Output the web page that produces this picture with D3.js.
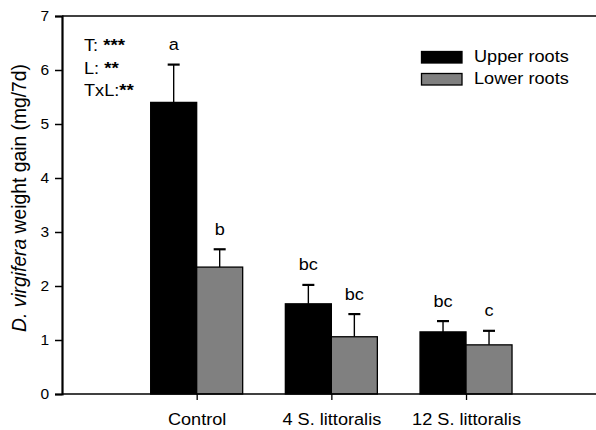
<!DOCTYPE html>
<html>
<head>
<meta charset="utf-8">
<script src="https://cdn.jsdelivr.net/npm/d3@7"></script>
<style>
  html, body { margin: 0; padding: 0; background: #fff; }
  svg { display: block; font-family: Arial, "Liberation Sans", sans-serif; }
</style>
</head>
<body>
<svg id="chart" width="596" height="430"></svg>
<script>
// Treatments along the x axis
const categories = ["Control", "4 S. littoralis", "12 S. littoralis"];
// Root layers (series)
const seriesNames = ["Upper roots", "Lower roots"];
// Mean weight gain (mg/7d)
const upperMeans = [5.4, 1.67, 1.15];
const lowerMeans = [2.35, 1.06, 0.91];
// Upper end of the error bars (mean + SE)
const upperErr = [6.1, 2.02, 1.35];
const lowerErr = [2.68, 1.48, 1.17];
// Post-hoc letters
const upperLetters = ["a", "bc", "bc"];
const lowerLetters = ["b", "bc", "c"];
// ANOVA summary
const statLabels = ["T:", "L:", "TxL:"];
const statStars = ["***", "**", "**"];
const yTicks = [0, 1, 2, 3, 4, 5, 6, 7];

const svg = d3.select("#chart");
const plotLeft = 62, plotTop = 16, plotBottom = 394, plotRight = 600.7;
const colors = ["#000000", "#808080"];
const FONT = "Arial, 'Liberation Sans', sans-serif";
const stretch = 1.1; // horizontal text is set slightly wide

const y = d3.scaleLinear().domain([0, 7]).range([plotBottom, plotTop]);
// categories sit at positions 1..3 of a 0..4 layout
const xPos = d3.scaleLinear().domain([0, 4]).range([plotLeft, plotRight]);
const barW = 46;

// horizontal text helper (wide set)
function wideText(parent, x, yy, size, anchor) {
  return parent.append("text")
    .attr("transform", `translate(${x},${yy}) scale(${stretch},1)`)
    .attr("font-size", size).attr("font-family", FONT)
    .attr("text-anchor", anchor || "start").attr("fill", "#000");
}

// frame: top line
svg.append("line").attr("x1", plotLeft).attr("x2", 596).attr("y1", plotTop).attr("y2", plotTop)
  .attr("stroke", "#000").attr("stroke-width", 1.5);

// bars with error bars and letters
const series = [
  { means: upperMeans, err: upperErr, letters: upperLetters, off: -1 },
  { means: lowerMeans, err: lowerErr, letters: lowerLetters, off: 0 }
];
series.forEach((s, si) => {
  const g = svg.append("g");
  categories.forEach((c, i) => {
    const cx = xPos(i + 1);
    const x0 = cx + s.off * barW;
    const mid = x0 + barW / 2;
    g.append("line").attr("x1", mid).attr("x2", mid)
      .attr("y1", y(s.means[i])).attr("y2", y(s.err[i]))
      .attr("stroke", "#000").attr("stroke-width", 1.4);
    g.append("line").attr("x1", mid - 6).attr("x2", mid + 6)
      .attr("y1", y(s.err[i])).attr("y2", y(s.err[i]))
      .attr("stroke", "#000").attr("stroke-width", 2.2);
    g.append("rect").attr("x", x0).attr("width", barW)
      .attr("y", y(s.means[i])).attr("height", y(0) - y(s.means[i]))
      .attr("fill", colors[si]).attr("stroke", "#000").attr("stroke-width", 1.3);
    wideText(g, mid, y(s.err[i]) - 14.5, 16.5, "middle").text(s.letters[i]);
  });
});

// y axis
const yAxis = d3.axisLeft(y).tickValues(yTicks).tickSize(7).tickPadding(6).tickFormat(d3.format("d"));
const gy = svg.append("g").attr("transform", `translate(${plotLeft},0)`).call(yAxis);
gy.select(".domain").attr("stroke-width", 2.2);
gy.selectAll(".tick line").attr("stroke-width", 1.5);
gy.selectAll("text").attr("font-size", 15.5).attr("font-family", FONT).attr("fill", "#000");

// x axis
svg.append("line").attr("x1", plotLeft).attr("x2", 596).attr("y1", plotBottom).attr("y2", plotBottom)
  .attr("stroke", "#000").attr("stroke-width", 1.5);
const xAxis = d3.axisBottom(xPos).tickValues([1, 2, 3]).tickSize(6).tickPadding(12)
  .tickFormat(d => categories[d - 1]);
const gx = svg.append("g").attr("transform", `translate(0,${plotBottom})`).call(xAxis);
gx.select(".domain").remove();
gx.selectAll(".tick line").attr("stroke-width", 1.3);
// category labels (wide set), drawn at the tick positions
gx.selectAll(".tick").each(function (d) {
  d3.select(this).selectAll("text").remove();
  wideText(d3.select(this), 0, 31, 16.5, "middle").text(categories[d - 1]);
});

// y axis title
const yt = svg.append("text")
  .attr("transform", `translate(25.5,198) rotate(-90)`)
  .attr("text-anchor", "middle").attr("font-size", 19.3).attr("font-family", FONT);
yt.append("tspan").attr("font-style", "italic").text("D. virgifera");
yt.append("tspan").text(" weight gain (mg/7d)");

// ANOVA summary
statLabels.forEach((lab, i) => {
  const t = wideText(svg, 84, 51 + i * 22.5, 16.5);
  t.append("tspan").text(lab + (i < 2 ? " " : ""));
  t.append("tspan").attr("font-weight", "bold").attr("font-size", 17).text(statStars[i]);
});

// legend
const lg = svg.append("g");
seriesNames.forEach((n, i) => {
  lg.append("rect").attr("x", 421.5).attr("y", 51.5 + i * 22).attr("width", 40.5).attr("height", 11.5)
    .attr("fill", colors[i]).attr("stroke", "#000").attr("stroke-width", 1.3);
  wideText(lg, 474, 61.8 + i * 22.2, 16.5).text(n);
});
</script>
</body>
</html>
